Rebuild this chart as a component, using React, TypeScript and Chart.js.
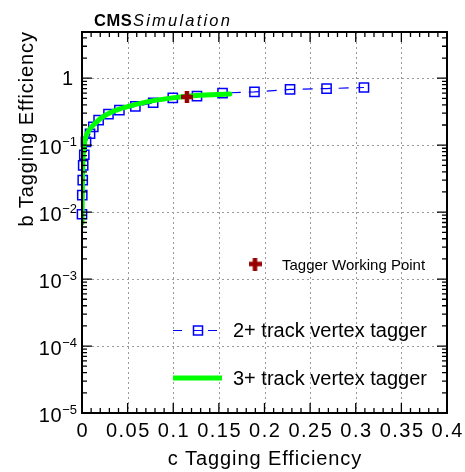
import React, { useEffect, useRef } from "react";
import { Chart, registerables } from "chart.js";

Chart.register(...registerables);

// ---- data ----
const twoTrackX = [0.0, 0.0003, 0.0008, 0.0013, 0.0025, 0.0044, 0.0088, 0.0124, 0.0182, 0.029, 0.041, 0.0585, 0.078, 0.0995, 0.126, 0.154, 0.189, 0.228, 0.268, 0.309];
const twoTrackY = [0.0093, 0.018, 0.03, 0.05, 0.072, 0.112, 0.148, 0.188, 0.236, 0.29, 0.333, 0.38, 0.43, 0.51, 0.54, 0.6, 0.625, 0.68, 0.7, 0.726];

const threeTrackX = [0.0, 0.0003, 0.0008, 0.002, 0.004, 0.008, 0.014, 0.022, 0.032, 0.048, 0.07, 0.095, 0.125, 0.162];
const threeTrackY = [0.0069, 0.02, 0.05, 0.09, 0.13, 0.17, 0.21, 0.26, 0.31, 0.37, 0.44, 0.5, 0.55, 0.58];

const workingPointX = [0.115];
const workingPointY = [0.526];

const xTickValues = [0, 0.05, 0.1, 0.15, 0.2, 0.25, 0.3, 0.35, 0.4];
const xTickLabels = ["0", "0.05", "0.1", "0.15", "0.2", "0.25", "0.3", "0.35", "0.4"];
const yTickExponents = [-5, -4, -3, -2, -1, 0];

const legendLabels = ["Tagger Working Point", "2+ track vertex tagger", "3+ track vertex tagger"];
const xTitle = "c Tagging Efficiency";
const yTitle = "b Tagging Efficiency";
const cmsLabel = "CMS";
const simLabel = "Simulation";

const X_MIN = 0;
const X_MAX = 0.4;
const Y_MIN = 1e-5;
const Y_MAX = 4.9;

const BLUE = "#0000ff";
const GREEN = "#00ff00";
const DARKRED = "#990000";
const FONT = "'Liberation Sans', Arial, Helvetica, sans-serif";

function makeCross(size: number, thick: number): HTMLCanvasElement {
  const c = document.createElement("canvas");
  c.width = size;
  c.height = size;
  const g = c.getContext("2d")!;
  g.fillStyle = DARKRED;
  const o = (size - thick) / 2;
  g.fillRect(o, 0, thick, size);
  g.fillRect(0, o, size, thick);
  return c;
}

function text(ctx: CanvasRenderingContext2D, s: string, x: number, y: number, font: string, align: CanvasTextAlign, spacing = 0) {
  ctx.font = font;
  (ctx as any).letterSpacing = spacing + "px";
  ctx.textAlign = align;
  ctx.textBaseline = "alphabetic";
  let dx = 0;
  if (align === "center") dx = spacing / 2;
  else if (align === "right") dx = spacing;
  ctx.fillText(s, x + dx, y);
  (ctx as any).letterSpacing = "0px";
}

const rootStyle = {
  id: "rootStyle",
  beforeDatasetsDraw(chart: any) {
    const { ctx, chartArea: a, scales } = chart;
    const x = scales.x;
    const y = scales.y;
    ctx.save();
    ctx.strokeStyle = "#9a9a9a";
    ctx.lineWidth = 1;
    ctx.setLineDash([2, 3]);
    for (const v of xTickValues) {
      if (v <= X_MIN || v >= X_MAX) continue;
      const px = Math.round(x.getPixelForValue(v)) + 0.5;
      ctx.beginPath();
      ctx.moveTo(px, a.top);
      ctx.lineTo(px, a.bottom);
      ctx.stroke();
    }
    for (const e of yTickExponents) {
      const v = Math.pow(10, e);
      if (v <= Y_MIN || v >= Y_MAX) continue;
      const py = Math.round(y.getPixelForValue(v)) + 0.5;
      ctx.beginPath();
      ctx.moveTo(a.left, py);
      ctx.lineTo(a.right, py);
      ctx.stroke();
    }
    ctx.restore();
  },
  afterDatasetsDraw(chart: any) {
    const { ctx, chartArea: a, scales } = chart;
    const x = scales.x;
    const y = scales.y;
    ctx.save();
    ctx.setLineDash([]);
    ctx.strokeStyle = "#000";
    ctx.fillStyle = "#000";

    // ticks
    ctx.lineWidth = 1.3;
    for (let i = 0; i <= 40; i++) {
      const v = i * 0.01;
      const len = i % 5 === 0 ? 10 : 5;
      const px = x.getPixelForValue(v);
      ctx.beginPath();
      ctx.moveTo(px, a.bottom);
      ctx.lineTo(px, a.bottom - len);
      ctx.moveTo(px, a.top);
      ctx.lineTo(px, a.top + len);
      ctx.stroke();
    }
    for (let e = -5; e <= 0; e++) {
      for (let m = 1; m <= 9; m++) {
        const v = m * Math.pow(10, e);
        if (v < Y_MIN || v > Y_MAX) continue;
        const len = m === 1 ? 10 : 5;
        const py = y.getPixelForValue(v);
        ctx.beginPath();
        ctx.moveTo(a.left, py);
        ctx.lineTo(a.left + len, py);
        ctx.moveTo(a.right, py);
        ctx.lineTo(a.right - len, py);
        ctx.stroke();
      }
    }

    // frame
    ctx.lineWidth = 2;
    ctx.strokeRect(a.left, a.top, a.right - a.left, a.bottom - a.top);

    // x tick labels
    xTickValues.forEach((v, i) => {
      const px = x.getPixelForValue(v);
      text(ctx, xTickLabels[i], px, a.bottom + 24, `20px ${FONT}`, "center", 1.5);
    });

    // y tick labels
    for (const e of yTickExponents) {
      const py = y.getPixelForValue(Math.pow(10, e));
      if (e === 0) {
        text(ctx, "1", 73, py + 7, `20px ${FONT}`, "right", 0);
      } else {
        const sup = "\u2212" + String(-e);
        ctx.font = `13px ${FONT}`;
        const supW = ctx.measureText(sup).width;
        text(ctx, sup, 77, py + 1, `13px ${FONT}`, "right", 0);
        text(ctx, "10", 77 - supW - 0.5, py + 9, `20px ${FONT}`, "right", 0.8);
      }
    }

    // axis titles
    text(ctx, xTitle, (a.left + a.right) / 2, 465, `20px ${FONT}`, "center", 0.9);
    ctx.save();
    ctx.translate(33, 32);
    ctx.rotate(-Math.PI / 2);
    text(ctx, yTitle, 0, 0, `20px ${FONT}`, "right", 0.9);
    ctx.restore();

    // CMS label
    ctx.font = `bold 16.5px ${FONT}`;
    text(ctx, cmsLabel, 94, 26, `bold 16.5px ${FONT}`, "left", 0.6);
    text(ctx, simLabel, 133, 26, `italic 16.5px ${FONT}`, "left", 2.2);

    // legend
    const cross = makeCross(13, 4.5);
    ctx.drawImage(cross, 255 - 6.5, 264 - 6.5);
    text(ctx, legendLabels[0], 282, 269.5, `15px ${FONT}`, "left", 0);

    ctx.strokeStyle = BLUE;
    ctx.lineWidth = 1.2;
    ctx.beginPath();
    ctx.moveTo(173, 330.5);
    ctx.lineTo(182, 330.5);
    ctx.moveTo(193, 330.5);
    ctx.lineTo(203, 330.5);
    ctx.moveTo(208, 330.5);
    ctx.lineTo(217, 330.5);
    ctx.stroke();
    ctx.lineWidth = 1.5;
    ctx.strokeRect(193.5, 326, 9, 9);
    text(ctx, legendLabels[1], 233, 337, `20px ${FONT}`, "left", 0);

    ctx.strokeStyle = GREEN;
    ctx.lineWidth = 5;
    ctx.beginPath();
    ctx.moveTo(173, 378);
    ctx.lineTo(222, 378);
    ctx.stroke();
    text(ctx, legendLabels[2], 233, 385, `20px ${FONT}`, "left", 0);

    ctx.restore();
  },
};

export default function App() {
  const ref = useRef<HTMLCanvasElement | null>(null);
  useEffect(() => {
    const canvas = ref.current!;
    const chart = new Chart(canvas, {
      type: "scatter",
      data: {
        datasets: [
          {
            label: legendLabels[1],
            data: twoTrackX.map((v, i) => ({ x: v, y: twoTrackY[i] })),
            showLine: true,
            borderColor: BLUE,
            borderWidth: 1.2,
            borderDash: [10, 8],
            pointStyle: "rect",
            pointRadius: 6.5,
            pointBorderWidth: 1.5,
            pointBorderColor: BLUE,
            pointBackgroundColor: "rgba(0,0,0,0)",
            clip: 8,
            order: 3,
          } as any,
          {
            label: legendLabels[2],
            data: threeTrackX.map((v, i) => ({ x: v, y: threeTrackY[i] })),
            showLine: true,
            borderColor: GREEN,
            borderWidth: 5,
            pointRadius: 0,
            cubicInterpolationMode: "monotone",
            borderCapStyle: "round",
            order: 2,
          } as any,
          {
            label: legendLabels[0],
            data: workingPointX.map((v, i) => ({ x: v, y: workingPointY[i] })),
            pointStyle: makeCross(12, 4.5),
            pointRadius: 6,
            order: 1,
          } as any,
        ],
      },
      options: {
        responsive: false,
        animation: false,
        devicePixelRatio: 1,
        layout: { padding: { left: 82, right: 18, top: 32, bottom: 59 } },
        plugins: { legend: { display: false }, tooltip: { enabled: false }, title: { display: false } },
        scales: {
          x: { type: "linear", min: X_MIN, max: X_MAX, display: false },
          y: { type: "logarithmic", min: Y_MIN, max: Y_MAX, display: false },
        },
      },
      plugins: [rootStyle],
    });
    return () => chart.destroy();
  }, []);
  return (
    <div style={{ position: "fixed", left: 0, top: 0, width: 465, height: 472, background: "#fff" }}>
      <canvas ref={ref} width={465} height={472} style={{ display: "block" }} />
    </div>
  );
}
